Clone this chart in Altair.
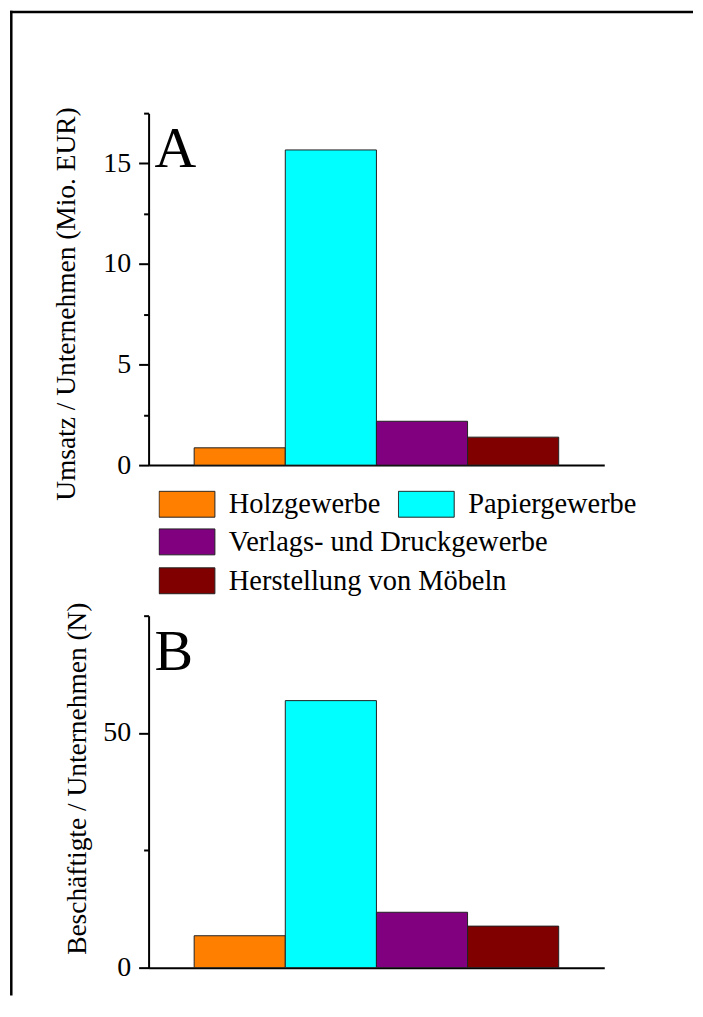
import altair as alt
import pandas as pd

categories = ["Holzgewerbe", "Papiergewerbe", "Verlags- und Druckgewerbe", "Herstellung von Möbeln"]
colors = ["#FF8000", "#00FFFF", "#800080", "#800000"]
umsatz = [0.86, 15.67, 2.18, 1.39]
beschaeftigte = [6.8, 56.9, 11.8, 8.85]
umsatz_ticks = [0, 2.5, 5, 7.5, 10, 12.5, 15, 17.5]
besch_ticks = [0, 25, 50, 75]
title_a = "Umsatz / Unternehmen (Mio. EUR)"
title_b = "Beschäftigte / Unternehmen (N)"

FONT = "Liberation Serif"
W, H = 457, 353

df = pd.DataFrame({"Branche": categories, "Umsatz": umsatz, "Besch": beschaeftigte})

x_enc = alt.X(
    "Branche:N",
    sort=categories,
    scale=alt.Scale(domain=categories, paddingInner=0, paddingOuter=0.5),
    axis=alt.Axis(labels=False, ticks=False, title=None, domainColor="black", domainWidth=2, grid=False),
)


def y_axis(title, values, major, tx, ty):
    return alt.Axis(
        values=values,
        title=title,
        grid=False,
        labelExpr=f"datum.value % {major} === 0 ? format(datum.value, 'd') : ''",
        tickSize={"condition": {"test": f"datum.value % {major} === 0", "value": 10}, "value": 5},
        tickWidth=2,
        tickColor="black",
        domainColor="black",
        domainWidth=2,
        labelFont=FONT,
        labelFontSize=28,
        labelColor="black",
        labelPadding=8,
        titleFont=FONT,
        titleFontSize=27.5,
        titleFontWeight="normal",
        titleColor="black",
        titleX=tx,
        titleY=ty,
        titleBaseline="alphabetic",
        titleAlign="center",
        titleAngle=270,
    )


def legend(ly, cols=1):
    return alt.Legend(
        orient="none",
        legendX=10,
        legendY=ly,
        direction="horizontal" if cols > 1 else "vertical",
        columns=cols,
        columnPadding=17,
        title=None,
        padding=0,
        labelFont=FONT,
        labelFontSize=28.5,
        labelColor="black",
        labelLimit=500,
        labelOffset=13.5,
        symbolType="M-1,-0.464L1,-0.464L1,0.464L-1,0.464Z",
        symbolSize=3136,
        symbolStrokeColor="#222222",
        symbolStrokeWidth=1,
        symbolOpacity=1,
        clipHeight=28,
    )


ya = alt.Y("Umsatz:Q", scale=alt.Scale(domain=[0, 17.5], nice=False),
           axis=y_axis(title_a, umsatz_ticks, 5, -74, 191))

groups = [(0, 2, 378, 2), (2, 3, 416, 1), (3, 4, 455, 1)]
bar_layers = []
for a, b, ly, cols in groups:
    bar_layers.append(
        alt.Chart(df.iloc[a:b])
        .mark_bar(stroke="#222222", strokeWidth=1)
        .encode(
            x=x_enc,
            y=ya,
            fill=alt.Fill("Branche:N", scale=alt.Scale(domain=categories[a:b], range=colors[a:b]),
                          legend=legend(ly, cols)),
        )
    )

one = pd.DataFrame({"f": [0]})
frame_top = alt.Chart(one).mark_rule(color="black", strokeWidth=2.5).encode(
    x=alt.value(-139), x2=alt.value(546), y=alt.value(-101.5))
frame_left = alt.Chart(one).mark_rule(color="black", strokeWidth=2.5).encode(
    x=alt.value(-137.7), y=alt.value(-102.7), y2=alt.value(885))


def panel_label(t):
    return alt.Chart(pd.DataFrame({"label": [t]})).mark_text(
        font=FONT, fontSize=58, align="left", baseline="alphabetic", color="black"
    ).encode(text="label:N", x=alt.value(6), y=alt.value(54))


panel_a = alt.layer(*bar_layers, frame_top, frame_left, panel_label("A")).resolve_scale(
    fill="independent").properties(width=W, height=H)

bars_b = alt.Chart(df).mark_bar(stroke="#222222", strokeWidth=1).encode(
    x=x_enc,
    y=alt.Y("Besch:Q", scale=alt.Scale(domain=[0, 75], nice=False),
            axis=y_axis(title_b, besch_ticks, 50, -63.5, 163)),
    fill=alt.Fill("Branche:N", scale=alt.Scale(domain=categories, range=colors), legend=None),
)
panel_b = alt.layer(bars_b, panel_label("B")).properties(width=W, height=H)

chart = (
    alt.vconcat(panel_a, panel_b, spacing=151, bounds="flush")
    .resolve_scale(fill="independent")
    .configure(font=FONT)
    .configure_axis(labelFont=FONT, titleFont=FONT, labelFontSize=28, titleFontSize=27.5,
                    titleFontWeight="normal", labelColor="black", titleColor="black")
    .configure_legend(labelFont=FONT, labelFontSize=28.5, labelColor="black")
    .configure_text(font=FONT)
    .configure_view(stroke=None)
    .properties(padding={"left": 0, "top": 0, "right": 0, "bottom": 0}, background="white")
)

chart.save("out.html", embed_options={"renderer": "svg", "actions": False})
